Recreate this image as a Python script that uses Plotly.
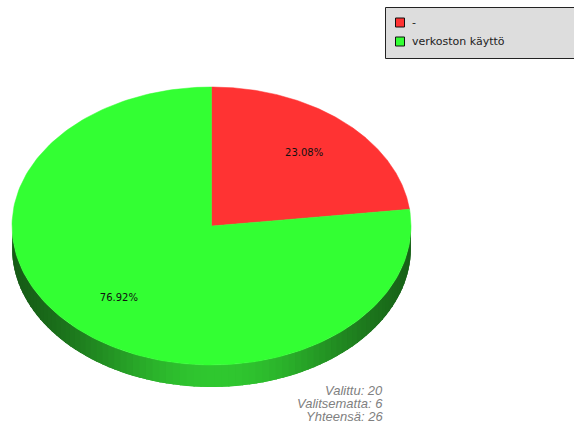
import numpy as np
import plotly.graph_objects as go

# Answer categories and counts
categories = ["-", "verkoston käyttö"]
counts = [6, 20]
colors = ["#ff3333", "#33ff33"]
summary_labels = ["Valittu", "Valitsematta", "Yhteensä"]
summary_values = [20, 6, 26]

W, H = 574, 428
CX, CY = 211.5, 226.0   # ellipse centre
RX, RY = 199.5, 139.0   # ellipse radii
DEPTH = 22.0            # thickness of the disc edge

total = sum(counts)
shares = [c / total for c in counts]

fig = go.Figure()


def ell(t):
    return CX + RX * np.cos(t), CY - RY * np.sin(t)


def side_color(t):
    # darker towards the rim ends, brighter near the front
    c = np.cos(t)
    k = np.exp(-((c - 0.05) / 0.75) ** 2)
    dark = np.array([0x12, 0x48, 0x12])
    light = np.array([0x30, 0xc8, 0x30])
    rgb = dark + (light - dark) * k
    return "rgb(%d,%d,%d)" % tuple(rgb.astype(int))


# Slice angular spans, clockwise from 12 o'clock
start = np.pi / 2
spans = []
a = start
for s in shares:
    spans.append((a - 2 * np.pi * s, a))
    a -= 2 * np.pi * s

# Visible front edge of the disc, shaded in overlapping vertical strips
n_strips = 90
edges = np.linspace(np.pi, 2 * np.pi, n_strips + 1)
dt = edges[1] - edges[0]
for i in range(n_strips):
    t0 = edges[i] - (0.6 * dt if i > 0 else 0)
    t1 = edges[i + 1] + (0.6 * dt if i < n_strips - 1 else 0)
    tm = 0.5 * (edges[i] + edges[i + 1])
    ts = np.linspace(t0, t1, 5)
    x, y = ell(ts)
    xs = np.concatenate([x, x[::-1]])
    ys = np.concatenate([y, (y + DEPTH)[::-1]])
    fig.add_trace(go.Scatter(
        x=xs, y=ys, mode="lines", fill="toself",
        fillcolor=side_color(tm), line=dict(width=0),
        hoverinfo="skip", showlegend=False))

# Top face slices
for (t_end, t_start), col in zip(spans, colors):
    ts = np.linspace(t_start, t_end, 200)
    x, y = ell(ts)
    xs = np.concatenate([[CX], x, [CX]])
    ys = np.concatenate([[CY], y, [CY]])
    fig.add_trace(go.Scatter(
        x=xs, y=ys, mode="lines", fill="toself", fillcolor=col,
        line=dict(width=0.5, color=col), hoverinfo="skip", showlegend=False))

# Percentage labels inside the slices
lx, ly, lt = [], [], []
for (t_end, t_start), s in zip(spans, shares):
    tm = 0.5 * (t_end + t_start)
    lx.append(CX + 0.7 * RX * np.cos(tm))
    ly.append(CY - 0.7 * RY * np.sin(tm))
    lt.append("%.2f%%" % (100 * s))
fig.add_trace(go.Scatter(
    x=lx, y=ly, mode="text", text=lt,
    textfont=dict(family="DejaVu Sans", size=10, color="#111111"),
    hoverinfo="skip", showlegend=False))

# Legend box
shapes = [dict(type="rect", xref="x", yref="y", x0=385.5, y0=7.5, x1=580, y1=58.5,
               fillcolor="#dddddd", line=dict(color="#222222", width=1))]
annotations = []
for i, (name, col) in enumerate(zip(categories, colors)):
    yc = 22.5 + i * 19
    shapes.append(dict(type="rect", xref="x", yref="y", x0=395.5, y0=yc - 4.5,
                       x1=404.5, y1=yc + 4.5, fillcolor=col,
                       line=dict(color="#111111", width=1)))
    annotations.append(dict(x=410, y=yc, xref="x", yref="y", text=name,
                            showarrow=False, xanchor="left", yanchor="middle",
                            font=dict(family="DejaVu Sans", size=11, color="#222222")))

# Summary text at the bottom
for i, (lab, val) in enumerate(zip(summary_labels, summary_values)):
    annotations.append(dict(x=385, y=390 + i * 13, xref="x", yref="y",
                            text="<i>%s: %d</i>" % (lab, val), showarrow=False,
                            xanchor="right", yanchor="middle",
                            font=dict(family="Liberation Sans", size=13, color="#808080")))

fig.update_layout(
    width=W, height=H, margin=dict(l=0, r=0, t=0, b=0),
    paper_bgcolor="white", plot_bgcolor="white",
    xaxis=dict(range=[0, W], visible=False, fixedrange=True),
    yaxis=dict(range=[H, 0], visible=False, fixedrange=True),
    shapes=shapes, annotations=annotations, showlegend=False)

fig.write_html("out.html")
